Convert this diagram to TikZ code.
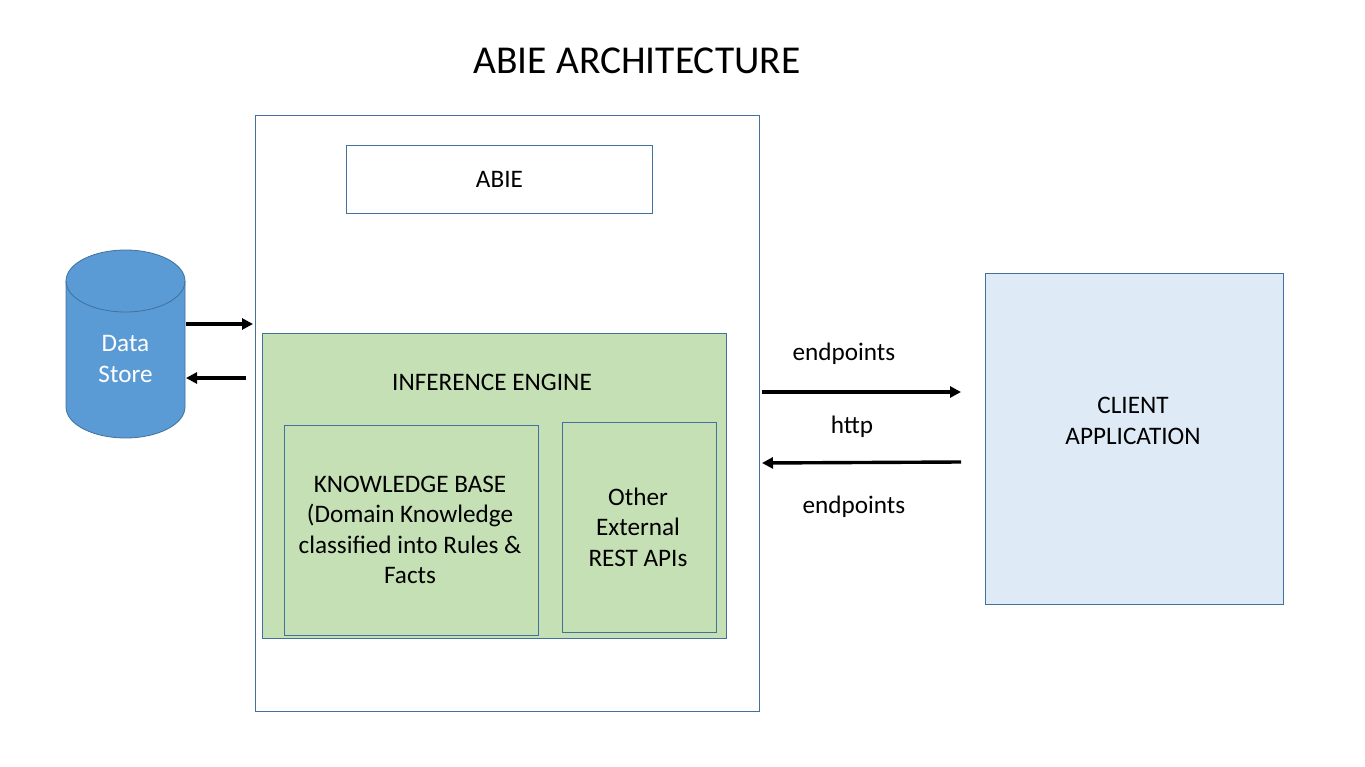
\documentclass[tikz,border=0pt]{standalone}
\usepackage{fontspec}
\setmainfont{Carlito}
\usetikzlibrary{arrows.meta}
\definecolor{edge}{HTML}{41719C}
\definecolor{dsfill}{HTML}{5B9BD5}
\definecolor{green}{HTML}{C5E0B4}
\definecolor{clientfill}{HTML}{DEEBF7}
\tikzset{
  box/.style={draw=edge, line width=0.9pt, anchor=north west, inner sep=0pt},
  lbl/.style={font=\fontsize{25.2}{30.5}\selectfont, align=center, inner sep=0pt},
  arr/.style={line width=3.4pt, -{Triangle[length=11pt,width=11pt]}},
}
\begin{document}
\begin{tikzpicture}[x=1pt,y=-1pt]
\useasboundingbox (0,0) rectangle (1365,767);
% title
\node[lbl, font=\fontsize{39.5}{48}\selectfont] (title) at (637,61) {ABIE ARCHITECTURE};
% outer ABIE container
\node[box, minimum width=504pt, minimum height=596pt] (outer) at (255,115) {};
\node[box, minimum width=306pt, minimum height=68pt] (abie) at (346,145) {};
\node[lbl] at (abie.center) {ABIE};
% inference engine
\node[box, fill=green, minimum width=464pt, minimum height=305pt] (ie) at (262,333) {};
\node[lbl] (ielbl) at (492,382) {INFERENCE ENGINE};
\node[box, minimum width=254pt, minimum height=210pt] (kb) at (284,425) {};
\node[lbl] at (410,530) {KNOWLEDGE BASE\\(Domain Knowledge\\classified into Rules \&\\Facts};
\node[box, minimum width=154pt, minimum height=210pt] (ext) at (562,422) {};
\node[lbl] at (638,527) {Other\\External\\REST APIs};
% client
\node[box, fill=clientfill, minimum width=298pt, minimum height=331pt] (client) at (985,273) {};
\node[lbl] at (1133,421) {CLIENT\\APPLICATION};
% data store cylinder
\fill[dsfill] (66,281) -- (66,407) arc[start angle=180,end angle=0,x radius=59.5,y radius=31] -- (185,281) arc[start angle=0,end angle=-180,x radius=59.5,y radius=31] -- cycle;
\draw[edge, line width=0.8pt] (66,281) -- (66,407) arc[start angle=180,end angle=0,x radius=59.5,y radius=31] -- (185,281) arc[start angle=0,end angle=-180,x radius=59.5,y radius=31];
\draw[edge, line width=0.8pt] (66,281) arc[start angle=180,end angle=0,x radius=59.5,y radius=31];
\node[lbl, text=white, minimum width=119pt] (ds) at (125.5,359) {Data\\Store};
% arrows data store
\coordinate (ds1) at (186,324);
\coordinate (ob1) at (253,324);
\coordinate (ob2) at (246,378);
\coordinate (ds2) at (186,378);
\draw[arr] (ds1) -- (ob1);
\draw[arr] (ob2) -- (ds2);
% arrows client
\coordinate (o3) at (762,392);
\coordinate (c3) at (961,392);
\coordinate (c4) at (961,462);
\coordinate (o4) at (762,463);
\draw[arr] (o3) -- (c3);
\draw[arr] (c4) -- (o4);
\node[lbl] (ep1) at (844,354) {endpoints};
\node[lbl] (http) at (852,427) {http};
\node[lbl] (ep2) at (854,507) {endpoints};
\end{tikzpicture}
\end{document}
